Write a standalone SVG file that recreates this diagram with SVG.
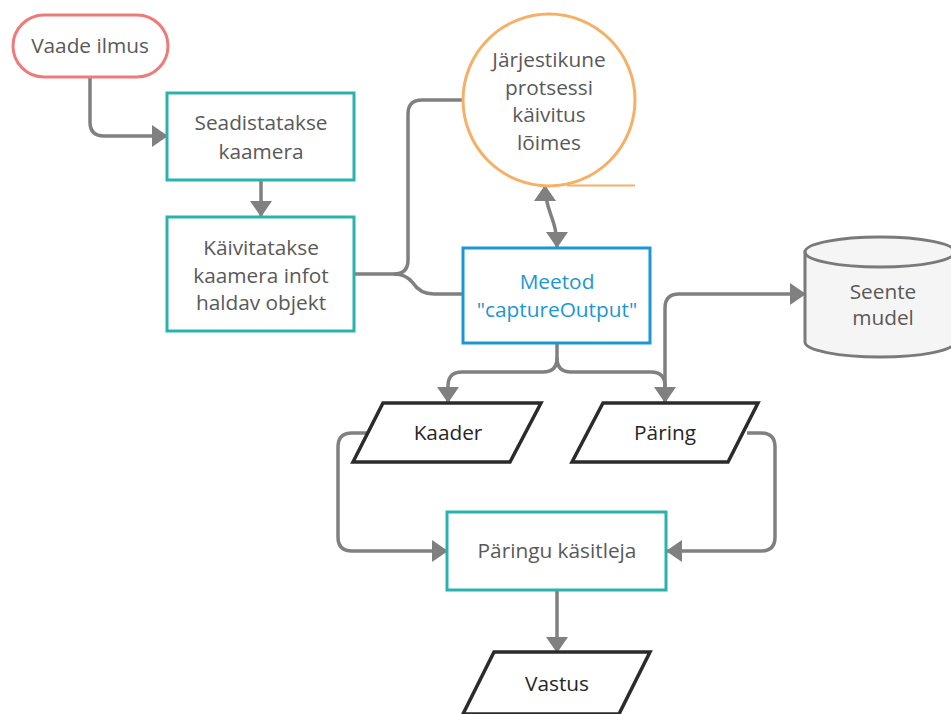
<svg xmlns="http://www.w3.org/2000/svg" width="951" height="714" viewBox="0 0 951 714">
<style>
text{font-family:"Open Sans","Noto Sans",sans-serif;font-size:20.8px;text-anchor:middle;fill:#595959}
.proc{fill:#fff;stroke:#2ab3ad;stroke-width:3}
.io{fill:#fff;stroke:#2b2b2b;stroke-width:3.5;stroke-linejoin:miter}
.io-t{fill:#262626}
.con{fill:none;stroke:#808080;stroke-width:3.5;stroke-linejoin:round}
</style>
<defs>
<marker id="ah" viewBox="0 0 16 22" markerWidth="16" markerHeight="22" refX="15" refY="11" orient="auto-start-reverse" markerUnits="userSpaceOnUse">
<path d="M0,0 L16,11 L0,22 Z" fill="#808080"/>
</marker>
</defs>
<g id="connectors">
<path class="con" d="M90,77 V122 Q90,136 104,136 H167" marker-end="url(#ah)"/>
<path class="con" d="M261,180 V216" marker-end="url(#ah)"/>
<path class="con" d="M354,274 H394 Q408,274 408,260 V114 Q408,100 422,100 H463"/>
<path class="con" d="M394,274 Q406,274 413,283 Q420,294 434,294 H463"/>
<path class="con" d="M545,186 C545,212 557,218 557,247" marker-start="url(#ah)" marker-end="url(#ah)"/>
<path class="con" d="M557,343 V358 Q557,372 543,372 H462 Q448,372 448,386 V402" marker-end="url(#ah)"/>
<path class="con" d="M557,358 Q557,372 571,372 H651 Q665,372 665,386 V402" marker-end="url(#ah)"/>
<path class="con" d="M665,392 V308 Q665,294 679,294 H805" marker-end="url(#ah)"/>
<path class="con" d="M368,433 H352 Q338,433 338,447 V537 Q338,551 352,551 H447" marker-end="url(#ah)"/>
<path class="con" d="M747,433 H761 Q775,433 775,447 V537 Q775,551 761,551 H667" marker-end="url(#ah)"/>
<path class="con" d="M557,590 V652" marker-end="url(#ah)"/>
</g>
<g id="vaade-ilmus">
<rect x="13" y="15" width="155" height="62" rx="31" fill="#fff" stroke="#ef7a7a" stroke-width="3"/>
<text x="90" y="53">Vaade ilmus</text>
</g>
<g id="seadistatakse">
<rect class="proc" x="167" y="93" width="187" height="87"/>
<text x="261" y="130">Seadistatakse</text>
<text x="261" y="159">kaamera</text>
</g>
<g id="kaivitatakse">
<rect class="proc" x="167" y="217" width="187" height="114"/>
<text x="261" y="255">Käivitatakse</text>
<text x="261" y="283">kaamera infot</text>
<text x="261" y="310">haldav objekt</text>
</g>
<g id="jarjestikune">
<circle cx="549" cy="100" r="86" fill="#fff" stroke="#f6b065" stroke-width="3"/>
<path d="M567,185.5 H635" stroke="#f6b065" stroke-width="2" fill="none"/>
<text x="549" y="67">Järjestikune</text>
<text x="549" y="95">protsessi</text>
<text x="549" y="122">käivitus</text>
<text x="549" y="150">lõimes</text>
</g>
<g id="meetod">
<rect x="463" y="248" width="187" height="95" fill="#fff" stroke="#1b97d5" stroke-width="3"/>
<text x="557" y="289" style="fill:#1b97d5">Meetod</text>
<text x="557" y="317" style="fill:#1b97d5">"captureOutput"</text>
</g>
<g id="seente-mudel">
<path d="M805,252 V342 A75,15 0 0 0 955,342 V252 Z" fill="#f5f5f5" stroke="#7a7a7a" stroke-width="3"/>
<ellipse cx="880" cy="252" rx="75" ry="15" fill="#f5f5f5" stroke="#7a7a7a" stroke-width="3"/>
<text x="883" y="299">Seente</text>
<text x="883" y="325">mudel</text>
</g>
<g id="kaader">
<polygon class="io" points="383,403 541,403 510,462 353,462"/>
<text class="io-t" x="448" y="440">Kaader</text>
</g>
<g id="paring">
<polygon class="io" points="603,403 758,403 728,462 572,462"/>
<text class="io-t" x="665" y="440">Päring</text>
</g>
<g id="paringu-kasitleja">
<rect class="proc" x="447" y="512" width="219" height="78"/>
<text x="557" y="558">Päringu käsitleja</text>
</g>
<g id="vastus">
<polygon class="io" points="494,652 650,652 619,714 463,714"/>
<text class="io-t" x="557" y="691">Vastus</text>
</g>
</svg>
